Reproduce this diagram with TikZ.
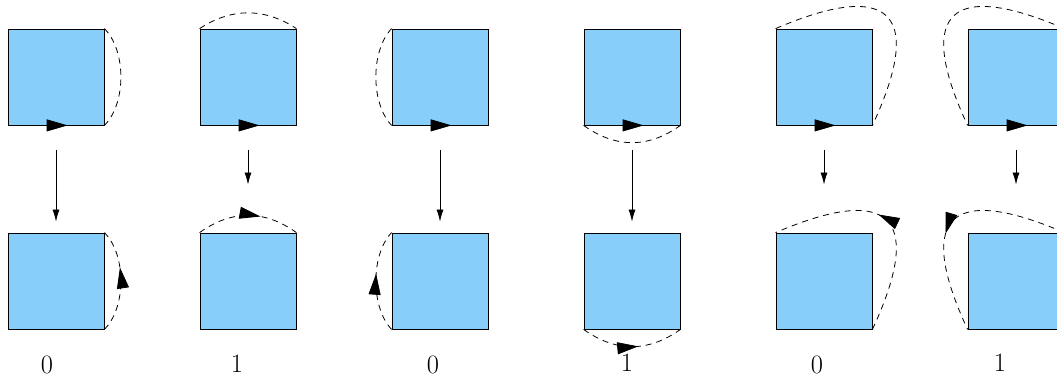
\documentclass[tikz,border=0pt]{standalone}
\usetikzlibrary{arrows.meta, decorations.markings}
\definecolor{cellblue}{RGB}{135,206,250}

\begin{document}
\begin{tikzpicture}[x=1pt,y=-1pt,line width=0.8pt,
  cell/.style={rectangle,draw=black,fill=cellblue,minimum size=96pt,inner sep=0pt},
  down/.style={-{Latex[length=12pt,width=7pt]},shorten <=25pt},
  glue/.style={dash pattern=on 6pt off 5pt},
  dirmark/.style={postaction={decorate,decoration={markings,
      mark=at position #1 with {\arrow{Triangle[length=21pt,width=12pt]}}}}},
  lbl/.style={font=\fontsize{26.5}{30}\selectfont,anchor=base}
]
  \useasboundingbox (0,0) rectangle (1057,379);
  \clip (0,0) rectangle (1057,379);
  \foreach \i in {1,...,6} {
    \node[cell] (t\i) at ({192*\i-136},77)  {};
    \node[cell] (b\i) at ({192*\i-136},281) {};
    \draw[dirmark=0.62] (t\i.south west) -- (t\i.south east);
  }

  \draw[down,shorten >=11pt] (t1) -- (b1);
  \draw[down,shorten >=48pt] (t2) -- (b2);
  \draw[down,shorten >=11pt] (t3) -- (b3);
  \draw[down,shorten >=11pt] (t4) -- (b4);
  \draw[down,shorten >=48pt] (t5) -- (b5);
  \draw[down,shorten >=48pt] (t6) -- (b6);

  % right side
  \draw[glue] (t1.north east) .. controls +(22,22) and +(22,-22) .. (t1.south east);
  \draw[glue,dirmark=0.63] (b1.south east) .. controls +(22,-22) and +(22,22) .. (b1.north east);
  % top side
  \draw[glue] (t2.north west) .. controls +(32,-21) and +(-32,-21) .. (t2.north east);
  \draw[glue,dirmark=0.62] (b2.north west) .. controls +(32,-23) and +(-32,-23) .. (b2.north east);
  % left side
  \draw[glue] (t3.north west) .. controls +(-21,22) and +(-21,-22) .. (t3.south west);
  \draw[glue,dirmark=0.57] (b3.south west) .. controls +(-21,-22) and +(-21,22) .. (b3.north west);
  % bottom side
  \draw[glue] (t4.south west) .. controls +(32,23) and +(-32,23) .. (t4.south east);
  \draw[glue,dirmark=0.56] (b4.south west) .. controls +(32,23) and +(-32,23) .. (b4.south east);
  % loops
  \draw[glue] (t5.north west) .. controls +(122.5,-52.5) and +(49,-105) .. (t5.south east);
  \draw[glue,dirmark=0.54] (b5.south east) .. controls +(49,-105) and +(122.5,-52.5) .. (b5.north west);
  \draw[glue] (t6.north east) .. controls +(-122.5,-52.5) and +(-49,-105) .. (t6.south west);
  \draw[glue,dirmark=0.57] (b6.north east) .. controls +(-122.5,-52.5) and +(-49,-105) .. (b6.south west);

  \node[lbl] (n1) at (47,373)   {0};
  \node[lbl] (n2) at (237,372)  {1};
  \node[lbl] (n3) at (433,373)  {0};
  \node[lbl] (n4) at (627,371)  {1};
  \node[lbl] (n5) at (817,373)  {0};
  \node[lbl] (n6) at (1000,371) {1};
\end{tikzpicture}
\end{document}
